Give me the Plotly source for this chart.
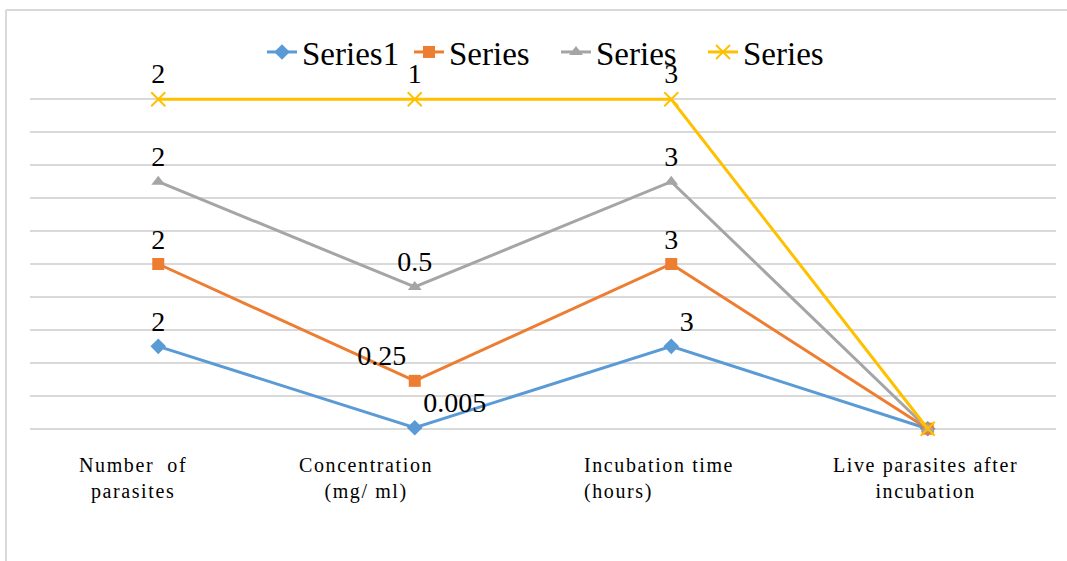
import numpy as np
import plotly.graph_objects as go

# Categories along the x axis
categories = [
    "Number  of<br>parasites",
    "Concentration<br>(mg/ ml)",
    "Incubation time<br>(hours)",
    "Live parasites after<br>incubation",
]

# Series names as shown in the legend
series_names = ["Series1", "Series", "Series", "Series"]

# Raw values per series (one value per category)
series1 = [2, 0.005, 3, 0]
series2 = [2, 0.25, 3, 0]
series3 = [2, 0.5, 3, 0]
series4 = [2, 1, 3, 0]

# Gridline ticks on the hidden percent axis
y_ticks = list(range(0, 101, 10))

colors = ["#5B9BD5", "#ED7D31", "#A5A5A5", "#FFC000"]
symbols = ["diamond", "square", "triangle-up", "x-thin-open"]
text_positions = [
    ["top center", "top right", "top right", "top center"],
    ["top center", "top left", "top center", "top center"],
    ["top center", "top center", "top center", "top center"],
    ["top center", "top center", "top center", "top center"],
]

values = np.array([series1, series2, series3, series4], dtype=float)
totals = values.sum(axis=0)
# 100% stacked: cumulative share of each category's total
cum = np.cumsum(values, axis=0)
pct = np.where(totals > 0, cum / np.where(totals > 0, totals, 1) * 100, 0)

serif = "Liberation Serif"
x_idx = list(range(len(categories)))

fig = go.Figure()
for i, name in enumerate(series_names):
    labels = [("%g" % v) if v else "" for v in values[i]]
    marker = dict(symbol=symbols[i], size=12, color=colors[i])
    if symbols[i] == "x-thin-open":
        marker.update(size=14, line=dict(color=colors[i], width=2))
    fig.add_trace(go.Scatter(
        x=x_idx,
        y=pct[i],
        name=name,
        mode="lines+markers+text",
        line=dict(color=colors[i], width=3),
        marker=marker,
        text=labels,
        textposition=text_positions[i],
        textfont=dict(family=serif, size=28, color="#000000"),
        cliponaxis=False,
    ))

# Category labels under the plot
label_shift = [-25, -49, -89, -2]
label_anchor = ["center", "center", "left", "center"]
label_align = ["center", "center", "left", "center"]
spaced = '<span style="letter-spacing:1.6px">{}</span>'
for i, cat in enumerate(categories):
    fig.add_annotation(
        x=x_idx[i], xref="x", y=0, yref="paper",
        text="<br>".join(spaced.format(part) for part in cat.split("<br>")),
        showarrow=False,
        xanchor=label_anchor[i], yanchor="top", align=label_align[i],
        xshift=label_shift[i], yshift=-20,
        font=dict(family=serif, size=20, color="#000000"),
    )

# Plot area spans y pixels 96..432 so that 0 and 100 sit at 429 and 99
PLOT_TOP, PLOT_BOTTOM = 96, 432
plot_h = PLOT_BOTTOM - PLOT_TOP

def paper_y(py):
    return (PLOT_BOTTOM - py) / plot_h

def paper_x(px):
    return (px - 30) / 1026

# Chart frame (top and left edges)
fig.add_shape(type="line", xref="paper", yref="paper",
              x0=paper_x(6), x1=paper_x(1067), y0=paper_y(10), y1=paper_y(10),
              line=dict(color="#D9D9D9", width=2))
fig.add_shape(type="line", xref="paper", yref="paper",
              x0=paper_x(6), x1=paper_x(6), y0=paper_y(10), y1=paper_y(561),
              line=dict(color="#D9D9D9", width=2))

fig.update_layout(
    width=1067, height=561,
    margin=dict(l=30, r=11, t=PLOT_TOP, b=561 - PLOT_BOTTOM),
    paper_bgcolor="white", plot_bgcolor="white",
    showlegend=True,
    legend=dict(
        orientation="h", x=paper_x(556), xanchor="center",
        y=paper_y(52), yanchor="middle",
        font=dict(family=serif, size=33, color="#000000"),
        bgcolor="rgba(0,0,0,0)", entrywidth=102, entrywidthmode="pixels",
    ),
    xaxis=dict(
        range=[-0.5, len(categories) - 0.5],
        showticklabels=False, showgrid=False, zeroline=False,
        showline=False, ticks="",
    ),
    yaxis=dict(
        range=[-1, 101], tickvals=y_ticks,
        showticklabels=False, showgrid=True,
        gridcolor="#D9D9D9", gridwidth=1.5,
        zeroline=False, showline=False, ticks="",
    ),
)

fig.write_html("out.html")
